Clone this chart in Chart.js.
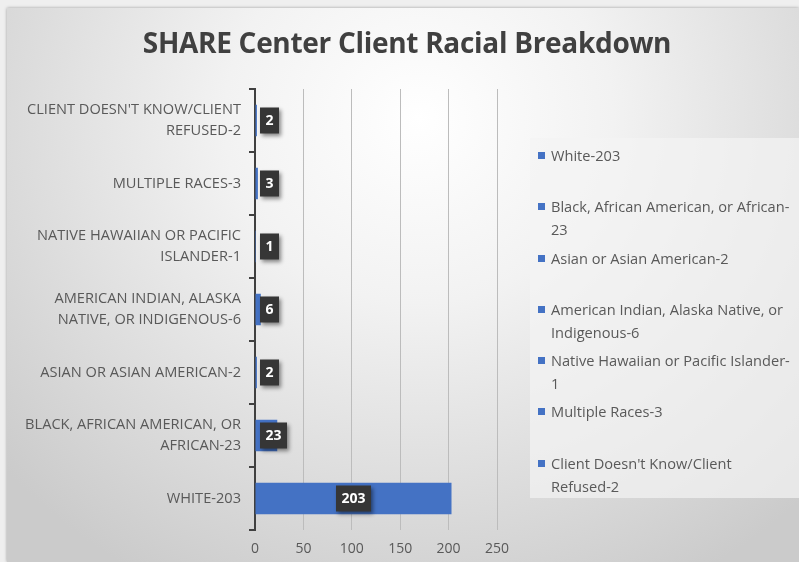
<!DOCTYPE html>
<html>
<head>
<meta charset="utf-8">
<script src="https://cdn.jsdelivr.net/npm/chart.js@4/dist/chart.umd.min.js"></script>
<style>
  html, body { margin: 0; padding: 0; background: #efefef; }
  body { width: 799px; height: 562px; overflow: hidden; position: relative; }
  #frame {
    position: absolute; left: 7px; top: 8px; width: 792px; height: 554px;
    background: radial-gradient(ellipse 70% 95% at 52% 20%, #ffffff 0%, #f2f2f2 35%, #cbcbcb 100%);
    box-shadow: 0 0 3px rgba(0,0,0,0.35);
  }
  #frame canvas { position: absolute; left: 0; top: 0; }
  #title {
    position: absolute; left: 0; width: 800px; top: 15px; text-align: center;
    font-family: "Open Sans", sans-serif; font-weight: 700; font-size: 28px; color: #404040;
    letter-spacing: -0.3px;
  }
  #legend {
    position: absolute; left: 523px; top: 130px; width: 269px; height: 360px;
    background: rgba(244,244,244,0.7);
    font-family: "Open Sans", sans-serif; font-size: 14.6px; color: #595959;
    box-sizing: border-box; padding-top: 6px;
  }
  .item { position: relative; height: 51.3px; padding-left: 21px; line-height: 23px; white-space: nowrap; }
  .item i { position: absolute; left: 8px; top: 8px; width: 7px; height: 7px; background: #4472c4; }
</style>
</head>
<body>
<div id="frame">
  <canvas id="c" width="792" height="554"></canvas>
  <div id="title">SHARE Center Client Racial Breakdown</div>
  <div id="legend"></div>
</div>
<script>
// top to bottom as drawn on the axis
const categories = [
  "Client Doesn't Know/Client Refused-2",
  "Multiple Races-3",
  "Native Hawaiian or Pacific Islander-1",
  "American Indian, Alaska Native, or Indigenous-6",
  "Asian or Asian American-2",
  "Black, African American, or African-23",
  "White-203"
];
const counts = [2, 3, 1, 6, 2, 23, 203];

const axisLabels = [
  ["CLIENT DOESN'T KNOW/CLIENT", "REFUSED-2"],
  "MULTIPLE RACES-3",
  ["NATIVE HAWAIIAN OR PACIFIC", "ISLANDER-1"],
  ["AMERICAN INDIAN, ALASKA", "NATIVE, OR INDIGENOUS-6"],
  "ASIAN OR ASIAN AMERICAN-2",
  ["BLACK, AFRICAN AMERICAN, OR", "AFRICAN-23"],
  "WHITE-203"
];

// legend runs bottom to top of the axis, wrapped like the original
const legendLines = [
  ["White-203"],
  ["Black, African American, or African-", "23"],
  ["Asian or Asian American-2"],
  ["American Indian, Alaska Native, or", "Indigenous-6"],
  ["Native Hawaiian or Pacific Islander-", "1"],
  ["Multiple Races-3"],
  ["Client Doesn't Know/Client", "Refused-2"]
];

const xTicks = [0, 50, 100, 150, 200, 250];

const FONT = '"Open Sans", sans-serif';

const valueBoxes = {
  id: 'valueBoxes',
  afterDatasetsDraw(chart) {
    const ctx = chart.ctx;
    const meta = chart.getDatasetMeta(0);
    const zero = chart.scales.x.getPixelForValue(0);
    ctx.save();
    ctx.font = 'bold 14px ' + FONT;
    meta.data.forEach((bar, i) => {
      const txt = String(counts[i]);
      const w = ctx.measureText(txt).width + 11;
      const h = 26;
      const cx = (bar.x + bar.base) / 2;
      const x0 = Math.max(cx - w / 2, zero + 5);
      const y0 = bar.y - h / 2;
      ctx.shadowColor = 'rgba(0,0,0,0.45)';
      ctx.shadowBlur = 4;
      ctx.shadowOffsetX = 2;
      ctx.shadowOffsetY = 2;
      ctx.fillStyle = '#363636';
      ctx.fillRect(x0, y0, w, h);
      ctx.shadowColor = 'transparent';
      ctx.fillStyle = '#ffffff';
      ctx.textAlign = 'center';
      ctx.textBaseline = 'middle';
      ctx.fillText(txt, x0 + w / 2, bar.y + 1);
    });
    ctx.restore();
  }
};

new Chart(document.getElementById('c'), {
  type: 'bar',
  data: {
    labels: axisLabels,
    datasets: [{
      label: 'Clients',
      data: counts,
      backgroundColor: '#4472c4',
      categoryPercentage: 1,
      barPercentage: 0.5
    }]
  },
  options: {
    indexAxis: 'y',
    responsive: false,
    animation: false,
    layout: { padding: { top: 81, right: 302, bottom: 4, left: 0 } },
    plugins: {
      legend: { display: false },
      tooltip: { enabled: false }
    },
    scales: {
      x: {
        min: 0, max: 250,
        afterBuildTicks(scale) { scale.ticks = xTicks.map(v => ({ value: v })); },
        afterFit(scale) { scale.height = 28; },
        grid: { color: '#bcbcbc', drawTicks: false, lineWidth: 1 },
        border: { display: false },
        ticks: { color: '#595959', padding: 11, font: { family: FONT, size: 14 } }
      },
      y: {
        afterFit(scale) { scale.width = 248; },
        grid: { drawOnChartArea: false, color: '#404040', tickLength: 6, lineWidth: 2, offset: true },
        border: { color: '#404040', width: 2 },
        ticks: { color: '#595959', padding: 8, font: { family: FONT, size: 14.6, lineHeight: 1.44 } }
      }
    }
  },
  plugins: [valueBoxes]
});

const legend = document.getElementById('legend');
legendLines.forEach(lines => {
  const d = document.createElement('div');
  d.className = 'item';
  d.innerHTML = '<i></i>' + lines.map(l => l.replace(/&/g, '&amp;').replace(/</g, '&lt;')).join('<br>');
  legend.appendChild(d);
});
</script>
</body>
</html>
